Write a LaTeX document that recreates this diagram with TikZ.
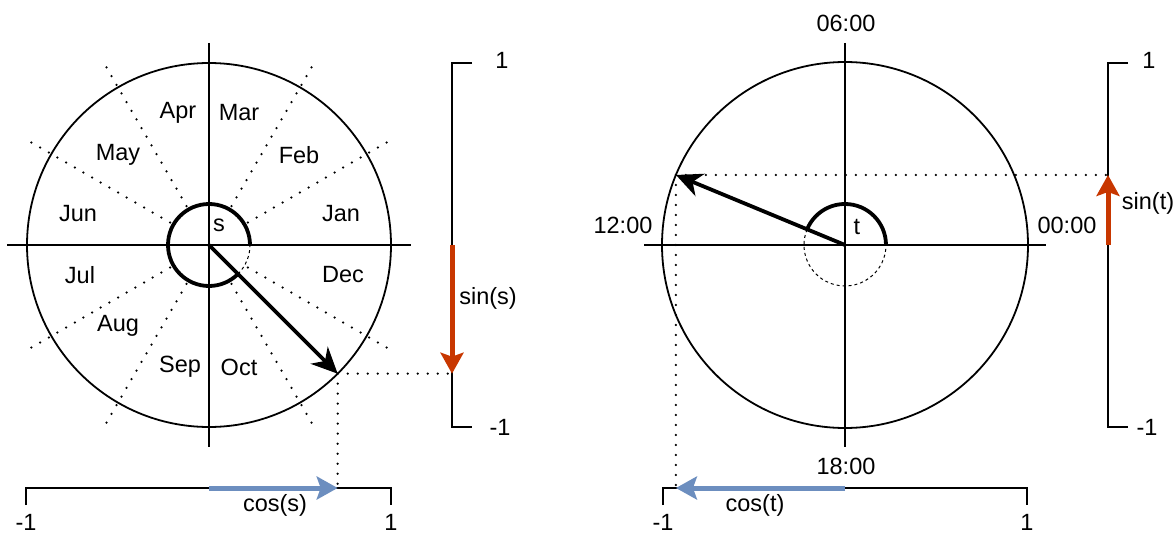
\documentclass[tikz,border=0pt]{standalone}
\usepackage{fontspec}
\setmainfont{Liberation Sans}
\usetikzlibrary{arrows.meta,calc}
\definecolor{sinred}{RGB}{200,55,0}
\definecolor{cosblue}{RGB}{108,142,191}
\begin{document}
\begin{tikzpicture}[x=1pt,y=1pt,
  lbl/.style={font=\fontsize{23.5}{28}\selectfont, inner sep=0pt},
  thinline/.style={line width=1.8pt},
  axisline/.style={line width=1.8pt},
  dotline/.style={line width=2.5pt, line cap=round, dash pattern=on 0pt off 10pt},
  thickarc/.style={line width=3.8pt},
  dasharc/.style={line width=1pt, dash pattern=on 3pt off 3pt},
  vecarrow/.style={line width=3.8pt, -{Stealth[length=26pt,width=24pt,inset=8pt]}},
  sinarrow/.style={line width=5pt, draw=sinred, -{Stealth[length=21pt,width=23pt,inset=4pt]}},
  cosarrow/.style={line width=5pt, draw=cosblue, -{Stealth[length=21pt,width=23pt,inset=4pt]}},
]
\useasboundingbox (0,0) rectangle (1176,-535);

% ---------------- left (months) ----------------
\coordinate (c1) at (209,-245);
\coordinate (p1) at ($(c1)+(-45:182)$);
\coordinate (c1n) at ($(c1)+(0,202)$);
\coordinate (c1s) at ($(c1)+(0,-202)$);
\coordinate (c1w) at ($(c1)+(-202,0)$);
\coordinate (c1e) at ($(c1)+(202,0)$);
\draw[axisline] (c1n) -- (c1s);
\draw[axisline] (c1w) -- (c1e);
\draw[thinline] (c1) circle[radius=182];
\foreach \a in {30,60,120,150,210,240,300,330}
  \draw[dotline] ($(c1)+(\a:45)$) -- ($(c1)+(\a:207)$);
\draw[thickarc] ($(c1)+(0:41)$) arc[start angle=0,end angle=315,radius=41];
\draw[dasharc] ($(c1)+(315:41)$) arc[start angle=315,end angle=360,radius=41];

% sine scale (left)
\coordinate (s1t) at (452,-63);
\coordinate (s1b) at (452,-427);
\coordinate (s1tt) at (472,-63);
\coordinate (s1bt) at (472,-427);
\draw[axisline] (s1tt) -- (s1t) -- (s1b) -- (s1bt);
\coordinate (s1z) at (s1t |- c1);
\coordinate (p1s) at (s1t |- p1);
% cosine scale (left)
\coordinate (k1l) at (26,-488);
\coordinate (k1r) at (391,-488);
\coordinate (k1lt) at (26,-505);
\coordinate (k1rt) at (391,-505);
\draw[axisline] (k1lt) -- (k1l) -- (k1r) -- (k1rt);
\coordinate (k1z) at (c1 |- k1l);
\coordinate (p1c) at (p1 |- k1l);

\draw[dotline] (p1) -- (p1s);
\draw[dotline] (p1) -- (p1c);
\draw[vecarrow] (c1) -- (p1);
\draw[sinarrow] (s1z) -- (p1s);
\draw[cosarrow] (k1z) -- (p1c);

\node[lbl] (apr) at (178,-113) {Apr};
\node[lbl] (mar) at (239,-113) {Mar};
\node[lbl] (may) at (118,-155) {May};
\node[lbl] (feb) at (299,-155) {Feb};
\node[lbl] (jun) at (78,-214) {Jun};
\node[lbl] (jan) at (341,-214) {Jan};
\node[lbl] (jul) at (80,-275) {Jul};
\node[lbl] (dec) at (343,-275) {Dec};
\node[lbl] (aug) at (118,-326) {Aug};
\node[lbl] (sep) at (180,-367) {Sep};
\node[lbl] (oct) at (239,-367) {Oct};
\node[lbl] (s) at (219,-225) {s};
\node[lbl] (sins) at (488,-298) {sin(s)};
\node[lbl] (coss) at (275,-505) {cos(s)};
\node[lbl] (one1) at (502,-60) {1};
\node[lbl] (mone1) at (500,-427) {-1};
\node[lbl] (kone1) at (391,-522) {1};
\node[lbl] (kmone1) at (26,-522) {-1};

% ---------------- right (hours) ----------------
\coordinate (c2) at (845,-245);
\coordinate (p2) at ($(c2)+(157.5:183)$);
\coordinate (c2n) at ($(c2)+(0,202)$);
\coordinate (c2s) at ($(c2)+(0,-202)$);
\coordinate (c2w) at ($(c2)+(-201,0)$);
\coordinate (c2e) at ($(c2)+(201,0)$);
\draw[axisline] (c2n) -- (c2s);
\draw[axisline] (c2w) -- (c2e);
\draw[thinline] (c2) circle[radius=183];
\draw[thickarc] ($(c2)+(0:41)$) arc[start angle=0,end angle=157.5,radius=41];
\draw[dasharc] ($(c2)+(157.5:41)$) arc[start angle=157.5,end angle=360,radius=41];

% sine scale (right)
\coordinate (s2t) at (1108,-63);
\coordinate (s2b) at (1108,-427);
\coordinate (s2tt) at (1128,-63);
\coordinate (s2bt) at (1128,-427);
\draw[axisline] (s2tt) -- (s2t) -- (s2b) -- (s2bt);
\coordinate (s2z) at (s2t |- c2);
\coordinate (p2s) at (s2t |- p2);
% cosine scale (right)
\coordinate (k2l) at (663,-488);
\coordinate (k2r) at (1027,-488);
\coordinate (k2lt) at (663,-505);
\coordinate (k2rt) at (1027,-505);
\draw[axisline] (k2lt) -- (k2l) -- (k2r) -- (k2rt);
\coordinate (k2z) at (c2 |- k2l);
\coordinate (p2c) at (p2 |- k2l);

\draw[dotline] (p2) -- (p2s);
\draw[dotline] (p2) -- (p2c);
\draw[vecarrow] (c2) -- (p2);
\draw[sinarrow] (s2z) -- (p2s);
\draw[cosarrow] (k2z) -- (p2c);

\node[lbl] (h06) at (846,-23) {06:00};
\node[lbl] (h18) at (846,-466) {18:00};
\node[lbl] (h12) at (623,-225) {12:00};
\node[lbl] (h00) at (1067,-225) {00:00};
\node[lbl] (t) at (857,-227) {t};
\node[lbl] (sint) at (1148,-203) {sin(t)};
\node[lbl] (cost) at (755,-505) {cos(t)};
\node[lbl] (one2) at (1149,-60) {1};
\node[lbl] (mone2) at (1147,-427) {-1};
\node[lbl] (kone2) at (1027,-522) {1};
\node[lbl] (kmone2) at (663,-522) {-1};
\end{tikzpicture}
\end{document}
